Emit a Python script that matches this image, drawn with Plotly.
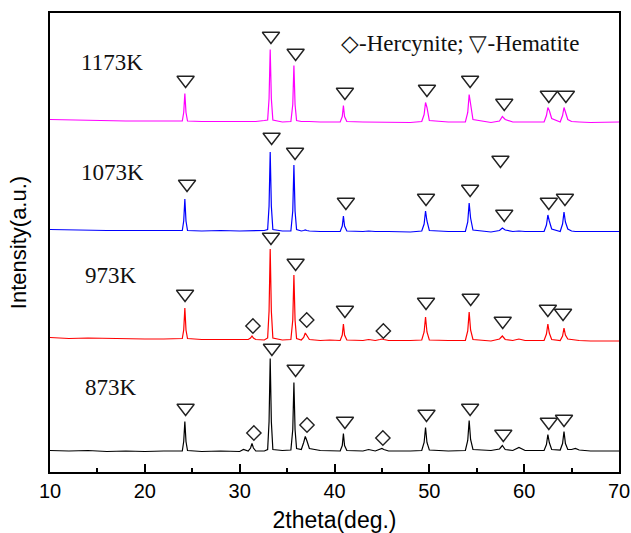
import plotly.graph_objects as go

# ---------------- data ----------------
two_theta = [10, 12, 14, 16, 18, 20, 22, 23.5, 23.95, 24.1,
             24.22, 24.34, 24.5, 26, 28, 30, 30.4, 30.9, 31.15, 31.3,
             31.45, 31.7, 32.6, 32.95, 33.1, 33.22, 33.34, 33.5, 34.5, 35.4,
             35.6, 35.72, 35.84, 36.0, 36.5, 36.75, 36.92, 37.08, 37.35, 38.5,
             39.5, 40.6, 40.82, 40.94, 41.06, 41.3, 43.0, 43.6, 44.3, 44.8,
             45.0, 45.2, 45.7, 48.0, 49.2, 49.45, 49.6, 49.75, 50.0, 52.0,
             53.8, 54.05, 54.2, 54.35, 54.6, 56.5, 57.4, 57.7, 58.0, 58.8,
             59.45, 60.1, 62.1, 62.35, 62.5, 62.65, 62.9, 63.8, 64.05, 64.2,
             64.35, 64.6, 65.0, 65.4, 65.8, 67, 68.5, 70]

int_873 = [1, 0.5, 1, 0, 0.5, 0, 0.5, 0, 0.5, 10,
           30, 10, 1, 0, 0.5, 0, 2, 0.5, 3.5, 8,
           3.5, 0.5, 0.5, 2, 30, 93, 30, 2, 1, 1.5,
           22, 69, 22, 3, 2, 9, 15, 11, 3, 1,
           1, 0.5, 6, 18, 6, 1, 0.5, 2, 0.5, 2,
           3, 2, 0.5, 0.5, 1, 9, 24, 9, 1.5, 0.5,
           1, 11, 31, 12, 2, 1, 2.5, 6, 2, 1,
           4, 1, 1, 7, 17, 9, 2, 1.5, 8, 20,
           8, 2, 2, 3, 1.5, 0.5, 0.5, 0.5]

int_973 = [3.5, 2.5, 3, 2.5, 2.5, 2, 2, 2, 2.5, 11,
           33, 11, 2.5, 1.5, 1.5, 1.5, 2, 1.5, 3, 5,
           3, 1.5, 1, 3, 30, 92, 30, 3, 1, 1.5,
           21, 66, 21, 2.5, 1, 3.5, 8, 5, 1.5, 0.5,
           1, 0.5, 6, 17, 6, 1, 0.5, 1.5, 0.5, 1.5,
           2, 1.5, 0.5, 0.5, 1, 9, 24, 9, 1, 0.5,
           0.5, 10, 29, 11, 1.5, 0, 2, 5, 1.5, 0.5,
           2, 0.5, 0.5, 7, 17, 8, 1.5, 0.5, 5, 13,
           6, 2, 1.5, 1, 0.5, 0, 0, 0]

int_1073 = [2.5, 2, 2, 1.5, 1.5, 1.5, 1, 1, 1.5, 11,
            33, 11, 1.5, 1, 1.5, 1, 1, 1, 1.5, 1.5,
            1, 1, 1.5, 2.5, 26, 80, 26, 2.5, 1, 1,
            21, 67, 21, 2.5, 1, 1.5, 2, 1.5, 1, 0.5,
            0.5, 0.5, 6, 16, 6, 1, 0.5, 1, 0.5, 0.5,
            1, 0.5, 0.5, 0, 1, 8, 21, 11, 1.5, 0.5,
            0.5, 10, 29, 14, 2, 0, 1.5, 4, 2, 0.5,
            1, 0.5, 0.5, 7, 17, 11, 3, 0.5, 8, 20,
            10, 3, 1, 0.5, 0.5, 0, 0, 0.5]

int_1173 = [3, 2.5, 2, 2, 1.5, 1.5, 1.5, 1, 1.5, 10,
            29, 10, 1.5, 1, 1, 1, 1, 1, 1, 1,
            1, 1, 2, 2.5, 24, 73, 24, 2.5, 0.5, 1,
            18, 57, 18, 2, 1, 1, 1.5, 1, 1, 0.5,
            0.5, 0.5, 6, 17, 6, 1, 0.5, 0.5, 0.5, 0.5,
            0.5, 0.5, 0.5, 0, 1, 8, 20, 15, 2, 0.5,
            0.5, 10, 28, 19, 3, 0, 1.5, 6, 3, 0.5,
            0.5, 0.5, 0.5, 7, 15, 12, 4, 0.5, 7, 15,
            11, 3, 1, 0.5, 0.5, 0, 0, 0.5]

sample_labels = ["873K", "973K", "1073K", "1173K"]
stack_offsets = [20.5, 131, 240, 349.5]
line_colors = ["#000000", "#ff0000", "#0000ff", "#ff00ff"]

# Hematite (triangle) marker positions per pattern
hem_x = {
    "873K": [24.3, 33.4, 35.9, 41.1, 49.7, 54.3, 57.8, 62.6, 64.2],
    "973K": [24.24, 33.3, 35.9, 41.1, 49.65, 54.36, 57.74, 62.5, 64.1],
    "1073K": [24.45, 33.37, 35.84, 41.2, 49.65, 54.3, 57.5, 57.9, 62.6, 64.3],
    "1173K": [24.3, 33.3, 35.9, 41.1, 49.75, 54.3, 57.9, 62.6, 64.4],
}
hem_y = {
    "873K": [64, 124, 103, 51, 58, 64, 38, 50, 53],
    "973K": [178, 235, 209, 162, 170, 174, 151, 163, 159],
    "1073K": [288, 335, 320, 270, 274, 283, 312, 258, 270, 274],
    "1173K": [392, 436, 419, 380, 383, 392, 369, 377, 377],
}
# Hercynite (diamond) marker positions
her_x = {"873K": [31.5, 37.1, 45.1], "973K": [31.4, 37.07, 45.15]}
her_y = {"873K": [39, 47, 34], "973K": [146, 152, 141]}

label_x = [13.5, 13.5, 13.06, 13.06]
label_y = [85, 197, 300, 410]

legend_text = "\u25c7-Hercynite; \u25bd-Hematite"

# ---------------- figure ----------------
fig = go.Figure()

for name, ints, off, col in zip(sample_labels,
                                [int_873, int_973, int_1073, int_1173],
                                stack_offsets, line_colors):
    fig.add_trace(go.Scatter(
        x=two_theta, y=[v + off for v in ints], mode="lines",
        line=dict(color=col, width=1.2), name=name, hoverinfo="skip"))

for name in sample_labels:
    fig.add_trace(go.Scatter(
        x=hem_x[name], y=hem_y[name], mode="markers",
        marker=dict(symbol="triangle-down-open", size=15,
                    line=dict(color="#222222", width=1.4), color="#222222"),
        hoverinfo="skip"))
    if name in her_x:
        fig.add_trace(go.Scatter(
            x=her_x[name], y=her_y[name], mode="markers",
            marker=dict(symbol="diamond-open", size=11,
                        line=dict(color="#222222", width=1.4), color="#222222"),
            hoverinfo="skip"))

serif = "Liberation Serif, Times New Roman, serif"
for txt, xx, yy in zip(sample_labels, label_x, label_y):
    fig.add_annotation(x=xx, y=yy, text=txt, showarrow=False,
                       xanchor="left", yanchor="middle",
                       font=dict(family=serif, size=23, color="#111111"))

fig.add_annotation(x=40.5, y=429, text=legend_text, showarrow=False,
                   xanchor="left", yanchor="middle",
                   font=dict(family=serif, size=23, color="#111111"))

sans = "Liberation Sans, Arial, sans-serif"
fig.update_layout(
    width=631, height=533,
    margin=dict(l=50, r=12, t=13, b=61, autoexpand=False),
    paper_bgcolor="white", plot_bgcolor="white",
    showlegend=False,
    xaxis=dict(
        range=[10, 70], dtick=10, tick0=10, automargin=False,
        ticks="inside", ticklen=8, tickwidth=1.5, tickcolor="black",
        minor=dict(dtick=5, ticks="inside", ticklen=4, tickwidth=1.5, tickcolor="black"),
        showline=True, linewidth=2, linecolor="black", mirror=True,
        showgrid=False, zeroline=False,
        tickfont=dict(family=sans, size=20, color="black"),
        title=dict(text="2theta(deg.)", font=dict(family=sans, size=23, color="black"),
                   standoff=12),
    ),
    yaxis=dict(
        range=[0, 459], showticklabels=False, ticks="", automargin=False,
        showline=True, linewidth=2, linecolor="black", mirror=True,
        showgrid=False, zeroline=False,
        title=dict(text="Intensity(a.u.)", font=dict(family=sans, size=22, color="black"),
                   standoff=15),
    ),
)

fig.write_html("out.html", config={"displayModeBar": False},
               post_script="document.body.style.margin='0';document.body.style.overflow='hidden';")
